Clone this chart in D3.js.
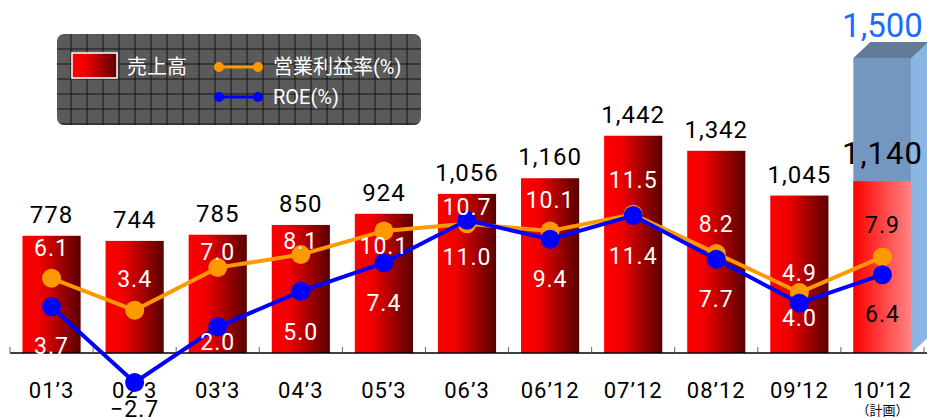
<!DOCTYPE html>
<html>
<head>
<meta charset="utf-8">
<script src="https://cdn.jsdelivr.net/npm/d3@7"></script>
<style>
  body { margin: 0; background: #fff; }
  svg { display: block; font-family: Roboto, "Noto Sans CJK JP", sans-serif; }
</style>
</head>
<body>
<div id="chart"></div>
<script>
// data
const categories = ["01’3", "02’3", "03’3", "04’3", "05’3", "06’3", "06’12", "07’12", "08’12", "09’12", "10’12"];
const sales = [778, 744, 785, 850, 924, 1056, 1160, 1442, 1342, 1045, 1140];
const opMargin = [6.1, 3.4, 7.0, 8.1, 10.1, 10.7, 10.1, 11.5, 8.2, 4.9, 7.9];
const roe = [3.7, -2.7, 2.0, 5.0, 7.4, 11.0, 9.4, 11.4, 7.7, 4.0, 6.4];
const planCategory = "10’12";
const planTarget = 1500;
const planNote = "（計画）";
const legendLabels = ["売上高", "営業利益率(%)", "ROE(%)"];

// hand placed label nudges (px from the point), like the original
const opLabelDy = [-31, -32, -16, -14, 15, -17, -31, -35, -30, -20, -32];
const roeLabelDy = [39, 26, 15, 40, 40, 36, 40, 40, 39, 15, 39];

{
  let width = 927,
      height = 418,
      baseline = 353;

  var svg = d3.select("#chart")
    .append("svg")
      .attr("width", width)
      .attr("height", height);

  var defs = svg.append("defs");
  var g1 = defs.append("linearGradient").attr("id", "barGrad");
  g1.append("stop").attr("offset", "0%").attr("stop-color", "#ff0000");
  g1.append("stop").attr("offset", "30%").attr("stop-color", "#f00000");
  g1.append("stop").attr("offset", "100%").attr("stop-color", "#580000");
  var g2 = defs.append("linearGradient").attr("id", "planGrad");
  g2.append("stop").attr("offset", "0%").attr("stop-color", "#ff0000");
  g2.append("stop").attr("offset", "100%").attr("stop-color", "#ff8585");

  // x
  var x = d3.scaleBand()
    .domain(categories)
    .range([10, 924])
    .paddingInner(0.3)
    .paddingOuter(0.15);
  var step = x.step(), bw = x.bandwidth();

  // y for sales, y for percent
  var y = d3.scaleLinear().domain([0, 1500]).range([baseline, baseline - 226]);
  var yPct = d3.scaleLinear().domain([0, 10]).range([350.5, 232.1]);
  // the plan column is drawn taller than scale, like the original
  var yPlan = d3.scaleLinear().domain([0, planTarget]).range([baseline, 58]);

  // plan 3d box
  {
    let x0 = x(planCategory), x1 = x0 + bw, top = yPlan(planTarget), dx = 17, dy = 16;
    svg.append("path")
      .attr("d", `M${x1},${top}L${x1 + dx},${top - dy}L${x1 + dx},${baseline - dy}L${x1},${baseline}Z`)
      .attr("fill", "#8bb5e2");
    svg.append("path")
      .attr("d", `M${x0},${top}L${x0 + dx},${top - dy}L${x1 + dx},${top - dy}L${x1},${top}Z`)
      .attr("fill", "#607c99");
    svg.append("rect")
      .attr("x", x0).attr("y", top)
      .attr("width", bw).attr("height", baseline - top)
      .attr("fill", "#7497bf");
    svg.append("text")
      .attr("x", x0 + bw / 2).attr("y", top - 21)
      .attr("text-anchor", "middle")
      .style("font-size", "33px")
      .attr("fill", "#1a6cff")
      .text(d3.format(",")(planTarget));
  }

  // bars
  sales.forEach(function(d, i) {
    let plan = categories[i] === planCategory;
    svg.append("rect")
      .attr("x", x(categories[i]))
      .attr("y", y(d))
      .attr("width", bw)
      .attr("height", baseline - y(d))
      .attr("fill", plan ? "url(#planGrad)" : "url(#barGrad)");
    svg.append("text")
      .attr("x", x(categories[i]) + bw / 2)
      .attr("y", y(d) - (plan ? 17 : 13))
      .attr("text-anchor", "middle")
      .style("font-size", plan ? "31px" : "24px")
      .style("letter-spacing", "1px")
      .attr("fill", "#000")
      .text(d3.format(",")(d));
  });

  // axis
  svg.append("line")
    .attr("x1", 10).attr("x2", 927)
    .attr("y1", baseline).attr("y2", baseline)
    .attr("stroke", "#000").attr("stroke-width", 1.5);
  categories.concat([null]).forEach(function(c, i) {
    let tx = (c ? x(c) : x(categories[i - 1]) + step) - step * 0.15;
    svg.append("line")
      .attr("x1", tx).attr("x2", tx)
      .attr("y1", baseline).attr("y2", baseline - 6)
      .attr("stroke", "#666").attr("stroke-width", 1);
  });
  var ax = svg.append("g")
    .attr("transform", "translate(0," + baseline + ")")
    .call(d3.axisBottom(x).tickSize(0).tickPadding(29));
  ax.select(".domain").remove();
  ax.selectAll("text")
    .style("font-family", "Roboto, 'Noto Sans CJK JP', sans-serif")
    .style("font-size", "22px")
    .style("letter-spacing", "1px")
    .attr("fill", "#000");
  svg.append("text")
    .attr("x", x(planCategory) + bw / 2).attr("y", 415)
    .attr("text-anchor", "middle")
    .style("font-size", "13px")
    .text(planNote);

  // lines
  var line = d3.line()
    .x((d, i) => x(categories[i]) + bw / 2)
    .y(d => yPct(d));
  [[opMargin, "#ff9900"], [roe, "#0000ff"]].forEach(function(s) {
    svg.append("path")
      .attr("d", line(s[0]))
      .attr("fill", "none")
      .attr("stroke", s[1])
      .attr("stroke-width", 4);
    s[0].forEach(function(v, i) {
      svg.append("circle")
        .attr("cx", x(categories[i]) + bw / 2)
        .attr("cy", yPct(v))
        .attr("r", 9.5)
        .attr("fill", s[1]);
    });
  });
  [[opMargin, opLabelDy], [roe, roeLabelDy]].forEach(function(s) {
    s[0].forEach(function(v, i) {
      let dark = categories[i] === planCategory || v < 0;
      svg.append("text")
        .attr("x", x(categories[i]) + bw / 2)
        .attr("y", yPct(v) + s[1][i])
        .attr("dy", "0.36em")
        .attr("text-anchor", "middle")
        .style("font-size", "23px")
        .style("letter-spacing", "1px")
        .attr("fill", dark ? "#000" : "#fff")
        .text(v < 0 ? "−" + d3.format(".1f")(-v) : d3.format(".1f")(v));
    });
  });

  // legend
  var lg = svg.append("g");
  defs.append("clipPath").attr("id", "lgClip")
    .append("rect").attr("x", 57).attr("y", 34).attr("width", 364).attr("height", 91).attr("rx", 7);
  lg.append("rect")
    .attr("x", 57).attr("y", 34).attr("width", 364).attr("height", 91).attr("rx", 7)
    .attr("fill", "#5a5a5a");
  var grid = lg.append("g").attr("clip-path", "url(#lgClip)");
  d3.range(71, 421, 16).forEach(function(gx) {
    grid.append("line").attr("x1", gx).attr("x2", gx).attr("y1", 34).attr("y2", 125)
      .attr("stroke", "#151515").attr("stroke-width", 1);
  });
  d3.range(49, 125, 15).forEach(function(gy) {
    grid.append("line").attr("x1", 57).attr("x2", 421).attr("y1", gy).attr("y2", gy)
      .attr("stroke", "#151515").attr("stroke-width", 1);
  });
  lg.append("rect")
    .attr("x", 72).attr("y", 53).attr("width", 45).attr("height", 25)
    .attr("fill", "url(#barGrad)")
    .attr("stroke", "#fff").attr("stroke-width", 1.5);
  lg.append("text").attr("x", 127).attr("y", 74)
    .style("font-size", "20px").attr("fill", "#fff").text(legendLabels[0]);
  [["#ff9900", 67, legendLabels[1]], ["#0000ff", 97, legendLabels[2]]].forEach(function(l) {
    lg.append("line").attr("x1", 219).attr("x2", 258).attr("y1", l[1]).attr("y2", l[1])
      .attr("stroke", l[0]).attr("stroke-width", 3);
    [219, 258].forEach(function(cx) {
      lg.append("circle").attr("cx", cx).attr("cy", l[1]).attr("r", 5).attr("fill", l[0]);
    });
    lg.append("text").attr("x", 273).attr("y", l[1] + 7)
      .style("font-size", "20px").attr("fill", "#fff").text(l[2]);
  });
}
</script>
</body>
</html>
